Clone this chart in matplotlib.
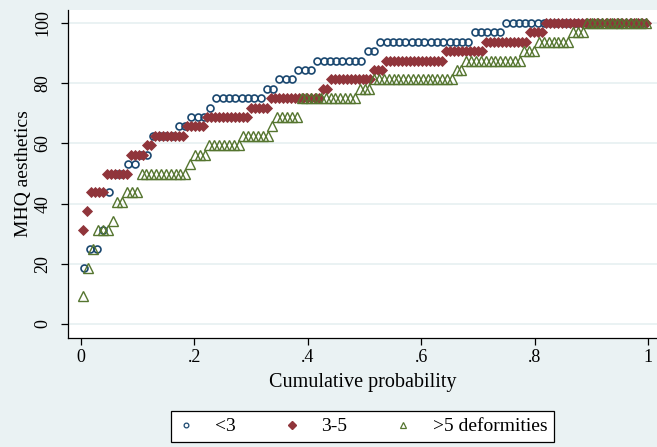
import numpy as np
import matplotlib
matplotlib.use("Agg")
import matplotlib.pyplot as plt
from matplotlib.lines import Line2D

# MHQ aesthetics score levels and number of hands at each level, per group
scores_lt3 = [18.75, 25, 31.25, 43.75, 50, 53.125, 56.25, 62.5, 65.625, 68.75,
              71.875, 75, 78.125, 81.25, 84.375, 87.5, 90.625, 93.75, 96.875, 100]
counts_lt3 = [1, 2, 1, 1, 2, 2, 2, 4, 2, 3,
              1, 8, 2, 3, 3, 8, 2, 15, 5, 23]

scores_3to5 = [31.25, 37.5, 43.75, 50, 56.25, 59.375, 62.5, 65.625, 68.75, 71.875,
               75, 78.125, 81.25, 84.375, 87.5, 90.625, 93.75, 96.875, 100]
counts_3to5 = [1, 1, 4, 6, 4, 2, 8, 5, 11, 5,
               13, 2, 11, 3, 15, 10, 11, 4, 26]

scores_gt5 = [9.375, 18.75, 25, 31.25, 34.375, 40.625, 43.75, 50, 53.125, 56.25,
              59.375, 62.5, 65.625, 68.75, 75, 78.125, 81.25, 84.375, 87.5, 90.625,
              93.75, 96.875, 100]
counts_gt5 = [1, 1, 1, 3, 1, 2, 3, 10, 1, 3,
              7, 6, 1, 5, 12, 3, 17, 2, 12, 3,
              7, 3, 13]

group_labels = ["<3", "3-5", ">5 deformities"]
x_ticks = [0, 0.2, 0.4, 0.6, 0.8, 1.0]
x_tick_labels = ["0", ".2", ".4", ".6", ".8", "1"]
y_ticks = [0, 20, 40, 60, 80, 100]

NAVY = "#1a476f"
MAROON = "#90353b"
FOREST = "#55752f"
BG = "#eaf2f3"

plt.rcParams["font.family"] = ["Liberation Serif", "DejaVu Serif"]


def quantile_points(scores, counts):
    """Sorted observations against their plotting position (i - 0.5) / n."""
    y = np.repeat(np.asarray(scores, float), counts)
    n = y.size
    x = (np.arange(1, n + 1) - 0.5) / n
    return x, y


W, H = 657, 447
fig = plt.figure(figsize=(W / 100, H / 100), dpi=100, facecolor=BG)
left, right, top, bottom = 68, 657, 10, 338
ax = fig.add_axes([left / W, 1 - bottom / H, (right - left) / W, (bottom - top) / H])
ax.set_facecolor("white")

x0_px, x1_px = 81, 648
y0_px, y100_px = 324, 23
sx = (x1_px - x0_px)
sy = (y0_px - y100_px) / 100
ax.set_xlim((left - x0_px) / sx, (right - x0_px) / sx)
ax.set_ylim((y0_px - bottom) / sy, (y0_px - top) / sy)

for v in y_ticks:
    ax.axhline(v, color=BG, lw=1.4, zorder=0)

x, y = quantile_points(scores_lt3, counts_lt3)
ax.plot(x, y, ls="none", marker="o", ms=5.0, mfc="none", mec=NAVY, mew=1.2, zorder=2)
x, y = quantile_points(scores_3to5, counts_3to5)
ax.plot(x, y, ls="none", marker="D", ms=4.8, mfc=MAROON, mec=MAROON, mew=0.6, zorder=3)
x, y = quantile_points(scores_gt5, counts_gt5)
ax.plot(x, y, ls="none", marker="^", ms=6.6, mfc="none", mec=FOREST, mew=1.0, zorder=4)

for s in ("top", "right"):
    ax.spines[s].set_visible(False)
for s in ("left", "bottom"):
    ax.spines[s].set_color("black")
    ax.spines[s].set_linewidth(0.9)

ax.set_xticks(x_ticks)
ax.set_xticklabels(x_tick_labels)
ax.set_yticks(y_ticks)
ax.set_yticklabels([str(v) for v in y_ticks], rotation=90, va="center")
ax.tick_params(axis="both", direction="out", length=5, width=0.9, color="black",
               labelsize=13, pad=3)
ax.tick_params(axis="y", pad=7)

ax.set_xlabel("Cumulative probability", fontsize=14.5, labelpad=5)
ax.set_ylabel("MHQ aesthetics", fontsize=14, labelpad=2)

handles = [
    Line2D([], [], ls="none", marker="o", ms=3.4, mfc="none", mec=NAVY, mew=0.9),
    Line2D([], [], ls="none", marker="D", ms=3.6, mfc=MAROON, mec=MAROON),
    Line2D([], [], ls="none", marker="^", ms=5.0, mfc="none", mec=FOREST, mew=0.9),
]
leg = fig.legend(handles, group_labels, loc="center",
                 bbox_to_anchor=(362.5 / W, 1 - 426.5 / H), ncol=3,
                 fontsize=14, frameon=True, fancybox=False, edgecolor="black",
                 facecolor="white", framealpha=1, handlelength=0.8,
                 handletextpad=1.1, columnspacing=2.5, borderpad=0.35,
                 borderaxespad=0)
leg.get_frame().set_linewidth(0.9)

fig.savefig("out.png", dpi=100, facecolor=BG)
